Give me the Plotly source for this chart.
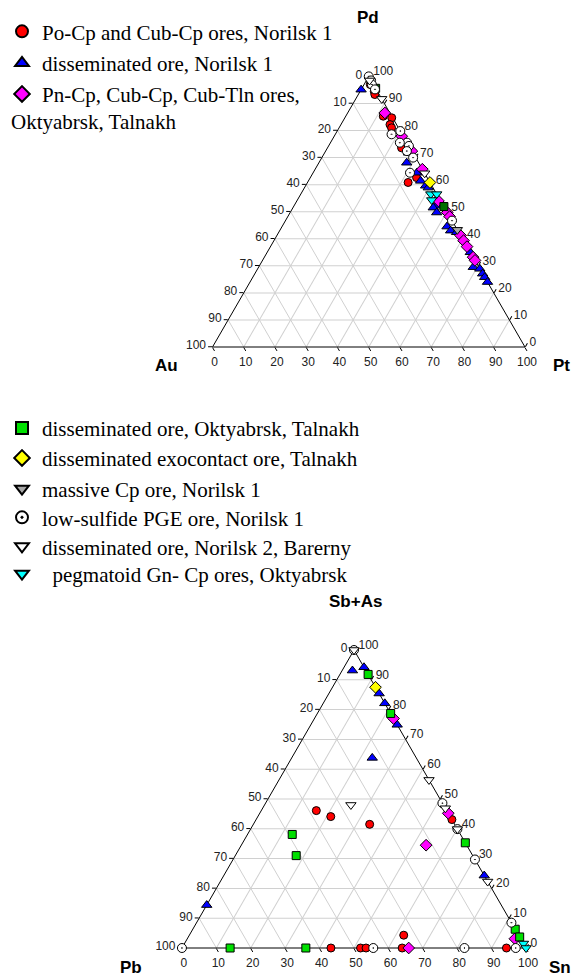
import plotly.graph_objects as go

# ---------------- data: top diagram (Pd, Au, Pt), bottom diagram (Sb+As, Pb, Sn) ----------------
# Po-Cp and Cub-Cp ores, Norilsk 1 (red circles)
red_top_pd = [97.0, 94.5, 93.3, 85.3, 84.7, 82.2, 81.0, 74.9, 73.6, 62.6, 60.8]
red_top_au = [1.0, 1.0, 1.4, 2.7, 0.3, 2.1, 2.2, 2.0, 2.7, 3.4, 7.0]
red_top_pt = [2.0, 4.5, 5.3, 12.0, 15.0, 15.7, 16.8, 23.1, 23.7, 34.0, 32.2]
red_bot_sbas = [46.1, 44.1, 41.5, 43.1, 4.3, 0, 0, 0, 0, 0]
red_bot_pb = [37.9, 34.7, 24.7, 0.0, 33.4, 56.7, 48.1, 46.5, 36.0, 5.7]
red_bot_sn = [16.0, 21.2, 33.8, 56.9, 62.3, 43.3, 51.9, 53.5, 64.0, 94.3]

# disseminated ore, Norilsk 1 (blue triangles)
blue_top_pd = [95.1, 71.8, 68.1, 64.4, 61.4, 59.6, 58.9, 54.7, 52.2, 51.5, 49.7, 44.5, 43.0, 42.4,
               35.0, 29.5, 28.9, 27.1, 25.8, 24.0]
blue_top_au = [4.9, 1.4, 3.8, 2.4, 2.7, 2.0, 1.5, 0.9, 2.4, 3.6, 3.4, 2.7, 2.3, 0.7,
               0.0, 1.8, 0.0, 0.0, 0.0, 0.0]
blue_top_pt = [0.0, 26.8, 28.1, 33.2, 35.9, 38.4, 39.6, 44.4, 45.4, 44.9, 46.9, 52.8, 54.7, 56.9,
               65.0, 68.7, 71.1, 72.9, 74.2, 76.0]
blue_bot_sbas = [94.2, 93.1, 85.4, 82.1, 74.9, 63.8, 24.3, 14.4]
blue_bot_pb = [0.0, 3.9, 0.0, 0.0, 0.0, 12.8, 0.0, 85.6]
blue_bot_sn = [5.8, 3.0, 14.6, 17.9, 25.1, 23.4, 75.7, 0.0]

# Pn-Cp, Cub-Cp, Cub-Tln ores, Oktyabrsk, Talnakh (magenta diamonds)
mag_top_pd = [86.5, 77.9, 72.4, 65.7, 54.0, 49.7, 48.2, 41.2, 39.3, 37.1, 33.2, 32.0]
mag_top_au = [1.6, 0.5, 0.0, 0.0, 0.7, 0.0, 0.0, 0.0, 0.0, 0.0, 0.0, 0.0]
mag_top_pt = [11.9, 21.6, 27.6, 34.3, 45.3, 50.3, 51.8, 58.8, 60.7, 62.9, 66.8, 68.0]
mag_bot_sbas = [77.0, 45.2, 34.5, 3.1, 0.0]
mag_bot_pb = [0.0, 0.0, 11.8, 1.7, 34.1]
mag_bot_sn = [23.0, 54.8, 53.7, 95.2, 65.9]

# disseminated ore, Oktyabrsk, Talnakh (green squares)
grn_top_pd = [95.6, 51.9]
grn_top_au = [0.0, 0.0]
grn_top_pt = [4.4, 48.1]
grn_bot_sbas = [91.8, 78.7, 38.1, 31.0, 35.3, 6.3, 3.7, 0.0, 0.0]
grn_bot_pb = [0.0, 0.0, 48.9, 51.3, 0.0, 0.0, 0.0, 86.0, 64.0]
grn_bot_sn = [8.2, 21.3, 13.0, 17.7, 64.7, 93.7, 96.3, 14.0, 36.0]

# disseminated exocontact ore, Talnakh (yellow diamonds)
yel_top_pd = [60.8]
yel_top_au = [0.0]
yel_top_pt = [39.2]
yel_bot_sbas = [87.5]
yel_bot_pb = [0.0]
yel_bot_sn = [12.5]

# massive Cp ore, Norilsk 1 (gray inverted triangles)
gry_top_pd = [43.3]
gry_top_au = [0.0]
gry_top_pt = [56.7]

# low-sulfide PGE ore, Norilsk 1 (open circles)
cir_top_pd = [100.0, 98.5, 97.0, 95.2, 79.8, 78.6, 75.5, 75.5, 74.3, 72.4, 70.0, 64.4, 46.7]
cir_top_au = [0.0, 0.0, 0.5, 0.4, 0.0, 3.4, 0.0, 2.3, 0.0, 1.6, 0.8, 4.6, 0.0]
cir_top_pt = [0.0, 1.5, 2.5, 4.4, 20.2, 18.0, 24.5, 22.2, 25.7, 26.0, 29.2, 31.0, 53.3]
cir_bot_sbas = [100.0, 48.6, 39.9, 29.7, 8.5, 0.0, 0.0, 0.0, 0.0]
cir_bot_pb = [0.0, 0.0, 0.0, 0.0, 0.0, 100.0, 44.4, 17.9, 3.0]
cir_bot_sn = [0.0, 51.4, 60.1, 70.3, 91.5, 0.0, 55.6, 82.1, 97.0]

# disseminated ore, Norilsk 2, Barerny (white inverted triangles)
wht_top_pd = [98.5, 91.7, 64.2]
wht_top_au = [0.5, 0.0, 0.0]
wht_top_pt = [1.0, 8.3, 35.8]
wht_bot_sbas = [100.0, 56.4, 48.0, 46.9, 39.9, 22.3]
wht_bot_pb = [0.0, 0.0, 26.9, 0.0, 0.0, 0.0]
wht_bot_sn = [0.0, 43.6, 25.1, 53.1, 60.1, 77.7]

# pegmatoid Gn-Cp ores, Oktyabrsk (cyan inverted triangles)
cya_top_pd = [56.5, 56.5, 54.3]
cya_top_au = [1.9, 0.0, 2.7]
cya_top_pt = [41.6, 43.5, 43.0]
cya_bot_sbas = [1.5, 0.0]
cya_bot_pb = [0.0, 0.0]
cya_bot_sn = [98.5, 100.0]

tick_vals = [0, 10, 20, 30, 40, 50, 60, 70, 80, 90, 100]
tick_text = [str(100 - v) for v in tick_vals]

# name, symbol, colour, size, top data, bottom data, which trace carries the legend entry,
# top colour override, legend entry centre (page px)
series = [
    ("Po-Cp and Cub-Cp ores, Norilsk 1", "circle", "#FF0000", 8,
     (red_top_pd, red_top_au, red_top_pt), (red_bot_sbas, red_bot_pb, red_bot_sn), "top", None, 31.7),
    ("disseminated ore, Norilsk 1", "triangle-up", "#0000FF", 9,
     (blue_top_pd, blue_top_au, blue_top_pt), (blue_bot_sbas, blue_bot_pb, blue_bot_sn), "top", None, 63.3),
    ("Pn-Cp, Cub-Cp, Cub-Tln ores,", "diamond", "#FF00FF", 9,
     (mag_top_pd, mag_top_au, mag_top_pt), (mag_bot_sbas, mag_bot_pb, mag_bot_sn), "top", None, 94.3),
    ("disseminated ore, Oktyabrsk, Talnakh", "square", "#00E000", 8,
     (grn_top_pd, grn_top_au, grn_top_pt), (grn_bot_sbas, grn_bot_pb, grn_bot_sn), "bot", "#007000", 428.3),
    ("disseminated exocontact ore, Talnakh", "diamond", "#FFFF00", 9,
     (yel_top_pd, yel_top_au, yel_top_pt), (yel_bot_sbas, yel_bot_pb, yel_bot_sn), "top", None, 458.3),
    ("massive Cp ore, Norilsk 1", "triangle-down", "#A8A8A8", 9,
     (gry_top_pd, gry_top_au, gry_top_pt), None, "top", None, 489.0),
    ("low-sulfide PGE ore, Norilsk 1", "circle-dot", "#FFFFFF", 9,
     (cir_top_pd, cir_top_au, cir_top_pt), (cir_bot_sbas, cir_bot_pb, cir_bot_sn), "top", None, 517.7),
    ("disseminated ore, Norilsk 2, Barerny", "triangle-down", "#FFFFFF", 9,
     (wht_top_pd, wht_top_au, wht_top_pt), (wht_bot_sbas, wht_bot_pb, wht_bot_sn), "top", None, 546.7),
    ("&nbsp;&nbsp;pegmatoid Gn- Cp ores, Oktyabrsk", "triangle-down", "#00FFFF", 9,
     (cya_top_pd, cya_top_au, cya_top_pt), (cya_bot_sbas, cya_bot_pb, cya_bot_sn), "top", None, 574.0),
]

# the page body has an 8px margin, so the figure is 8px smaller and positions are shifted
OFF = 8
W, H = 579 - OFF, 976 - OFF


def px(x):
    return (x - OFF) / W


def py(y):
    return 1 - (y - OFF) / H


legend_font = dict(family="Liberation Serif, Times New Roman", size=21, color="black")
legends = {}
fig = go.Figure()
for i, (name, sym, col, size, top, bot, legfrom, topcol, ycen) in enumerate(series):
    grp = "g%d" % i
    leg = "legend" if i == 0 else "legend%d" % (i + 1)
    legends[leg] = dict(x=px(2), y=py(ycen - 20.5), xanchor="left", yanchor="top",
                        font=legend_font, bgcolor="rgba(0,0,0,0)", itemsizing="constant",
                        itemclick=False, itemdoubleclick=False)
    fig.add_trace(go.Scatterternary(
        a=top[0], b=top[1], c=top[2], mode="markers", name=name, subplot="ternary",
        marker=dict(symbol=sym, color=topcol or col, size=size, line=dict(color="black", width=1)),
        legend=leg, legendgroup=grp, showlegend=(legfrom == "top"), cliponaxis=False,
        hoverinfo="skip"))
    if bot is not None:
        fig.add_trace(go.Scatterternary(
            a=bot[0], b=bot[1], c=bot[2], mode="markers", name=name, subplot="ternary2",
            marker=dict(symbol=sym, color=col, size=size, line=dict(color="black", width=1)),
            legend=leg, legendgroup=grp, showlegend=(legfrom == "bot"), cliponaxis=False,
            hoverinfo="skip"))


def axis():
    return dict(tickmode="array", tickvals=tick_vals, ticktext=tick_text, ticks="outside",
                ticklen=4, tickcolor="black", showline=True, linecolor="black", linewidth=1,
                showgrid=True, gridcolor="#D0D0D0", gridwidth=1, layer="below traces",
                tickfont=dict(family="Liberation Sans, Arial", size=12, color="#222222"),
                title=dict(text=""))


def dom(x0, x1, ytop, ybot):
    return dict(x=[px(x0), px(x1)], y=[py(ybot), py(ytop)])


title_font = dict(family="Liberation Sans, Arial", size=17, color="black")
annos = [
    dict(text="<b>Pd</b>", x=px(368), y=py(17)),
    dict(text="<b>Au</b>", x=px(166), y=py(366)),
    dict(text="<b>Pt</b>", x=px(561), y=py(366)),
    dict(text="<b>Sb+As</b>", x=px(355), y=py(601)),
    dict(text="<b>Pb</b>", x=px(131), y=py(967)),
    dict(text="<b>Sn</b>", x=px(560), y=py(967)),
]
annotations = [dict(a, xref="paper", yref="paper", showarrow=False, font=title_font,
                    xanchor="center", yanchor="middle") for a in annos]
annotations.append(dict(text="Oktyabrsk, Talnakh", x=px(9), y=py(122), xref="paper",
                        yref="paper", showarrow=False, xanchor="left", yanchor="middle",
                        font=legend_font))

fig.update_layout(
    width=W, height=H, margin=dict(l=0, r=0, t=0, b=0, autoexpand=False),
    paper_bgcolor="white", plot_bgcolor="white", showlegend=True,
    ternary=dict(sum=100, bgcolor="white", domain=dom(212.5, 525, 76.4, 347),
                 aaxis=axis(), baxis=axis(), caxis=axis()),
    ternary2=dict(sum=100, bgcolor="white", domain=dom(181, 527, 650, 948),
                  aaxis=axis(), baxis=axis(), caxis=axis()),
    annotations=annotations,
    **legends,
)

fig.write_html("out.html", config=dict(displayModeBar=False))
